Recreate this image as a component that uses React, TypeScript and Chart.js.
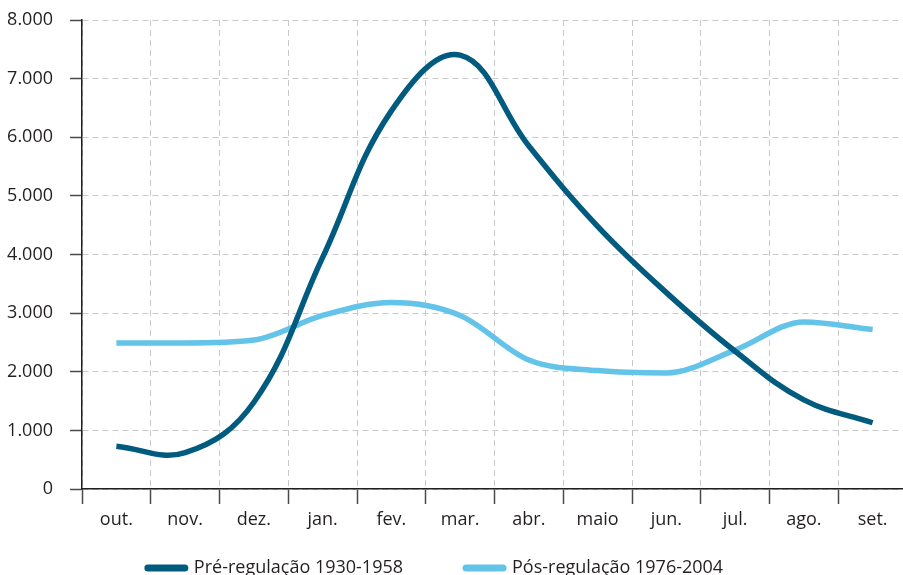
import React, { useEffect, useRef } from "react";
import { Chart, registerables } from "chart.js";

Chart.register(...registerables);

const months = ["out.", "nov.", "dez.", "jan.", "fev.", "mar.", "abr.", "maio", "jun.", "jul.", "ago.", "set."];
const preRegulacao = [730, 620, 1480, 3950, 6450, 7400, 5850, 4480, 3350, 2350, 1520, 1130];
const posRegulacao = [2490, 2490, 2540, 2960, 3180, 2960, 2200, 2020, 1980, 2370, 2850, 2720];
const seriesLabels = ["Pré-regulação 1930-1958", "Pós-regulação 1976-2004"];
const seriesColors = ["#005b7f", "#63c3e9"];
const yMin = 0;
const yMax = 8000;
const yStep = 1000;

const FONT = "'Open Sans', 'Noto Sans', sans-serif";
const TEXT = "#231f20";

const fmt = (v: number) => String(v).replace(/\B(?=(\d{3})+(?!\d))/g, ".");

const LEGEND_DX = 18;
const LEGEND_DY = 38;

const legendShift = {
  id: "legendShift",
  afterLayout(chart: any) {
    const lg = chart.legend;
    if (lg) {
      lg.left -= LEGEND_DX;
      lg.right -= LEGEND_DX;
      lg.top -= LEGEND_DY;
      lg.bottom -= LEGEND_DY;
    }
  },
};

export default function App() {
  const ref = useRef<HTMLCanvasElement | null>(null);

  useEffect(() => {
    if (!ref.current) return;
    const chart = new Chart(ref.current, {
      type: "line",
      data: {
        labels: months,
        datasets: [
          {
            label: seriesLabels[0],
            data: preRegulacao,
            borderColor: seriesColors[0],
            backgroundColor: seriesColors[0],
            borderWidth: 5.5,
            tension: 0.4,
            pointRadius: 0,
            fill: false,
          },
          {
            label: seriesLabels[1],
            data: posRegulacao,
            borderColor: seriesColors[1],
            backgroundColor: seriesColors[1],
            borderWidth: 5.5,
            cubicInterpolationMode: "monotone",
            pointRadius: 0,
            fill: false,
          },
        ],
      },
      options: {
        animation: false,
        responsive: false,
        devicePixelRatio: 1,
        layout: { padding: { top: 20, left: 0, right: 0, bottom: 0 } },
        scales: {
          x: {
            type: "category",
            offset: true,
            afterFit: (s: any) => {
              s.height = 45;
            },
            grid: {
              offset: true,
              color: "#c9c9c9",
              lineWidth: 1,
              tickLength: 15,
              tickColor: "#4a4a4a",
              tickWidth: 1.5,
            },
            border: { color: TEXT, width: 1.5, dash: [6, 4] },
            ticks: {
              color: TEXT,
              font: { family: FONT, size: 18 },
              padding: 5,
              maxRotation: 0,
              autoSkip: false,
            },
          },
          y: {
            min: yMin,
            max: yMax,
            afterFit: (s: any) => {
              s.width = 82;
              s.paddingTop = 0;
              s.paddingBottom = 0;
            },
            grid: {
              color: "#c9c9c9",
              lineWidth: 1,
              tickLength: 12,
              tickColor: "#4a4a4a",
              tickWidth: 1.5,
            },
            border: { color: TEXT, width: 1.5, dash: [6, 4] },
            ticks: {
              stepSize: yStep,
              color: TEXT,
              font: { family: FONT, size: 18 },
              padding: 17,
              callback: (v: any) => fmt(Number(v)),
            },
          },
        },
        plugins: {
          title: { display: false },
          tooltip: { enabled: false },
          legend: {
            position: "bottom",
            labels: {
              usePointStyle: true,
              pointStyle: "line",
              pointStyleWidth: 37,
              padding: 63,
              color: TEXT,
              font: { family: FONT, size: 18 },
              generateLabels: (c: any) => {
                const items = (Chart.defaults as any).plugins.legend.labels.generateLabels(c);
                return items.map((it: any) => ({
                  ...it,
                  lineCap: "round",
                  lineWidth: 7,
                  pointStyle: "line",
                }));
              },
            },
          },
        },
      },
      plugins: [legendShift],
    } as any);
    return () => chart.destroy();
  }, []);

  return (
    <div
      style={{
        position: "absolute",
        left: 0,
        top: 0,
        width: 903,
        height: 575,
        overflow: "hidden",
        background: "#fff",
      }}
    >
      <canvas ref={ref} width={907} height={625} style={{ display: "block" }} />
    </div>
  );
}
